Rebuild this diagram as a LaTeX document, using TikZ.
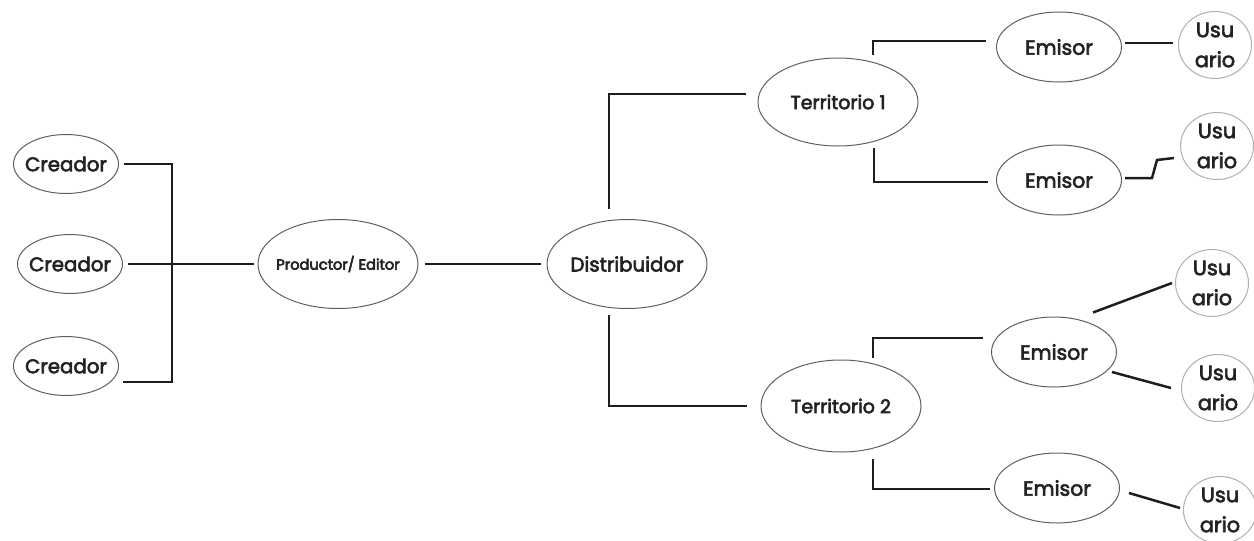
\documentclass[tikz,border=0pt]{standalone}
\usepackage{fontspec}
\setmainfont{Poppins}
\usepackage{tikz}
\usetikzlibrary{shapes}
\definecolor{node_gray}{RGB}{95,95,95}
\definecolor{user_gray}{RGB}{175,175,175}
\definecolor{edge_black}{RGB}{30,30,30}
\definecolor{text_black}{RGB}{35,35,35}
% slightly heavier strokes for the labels
\newcommand{\heavy}[1]{\special{pdf:literal direct 2 Tr 0.3 w}#1\special{pdf:literal direct 0 Tr}}

\begin{document}
\begin{tikzpicture}[x=0.5pt,y=-0.5pt,line width=1.2pt]
    \tikzstyle{link}=[draw=edge_black,line width=1.25pt]
    \tikzstyle{agent}=[draw=node_gray, ellipse, line width=0.5pt, inner xsep=-10pt, inner ysep=0pt, fill=none, text=text_black]
    \tikzstyle{creator}=[style=agent, minimum width=52.5pt, minimum height=29.5pt, font=\fontsize{9.9}{12}\selectfont]
    \tikzstyle{big}=[style=agent, minimum width=80pt, minimum height=44.5pt]
    \tikzstyle{emitter}=[style=agent, minimum width=62.5pt, minimum height=35pt, font=\fontsize{10.2}{12}\selectfont]
    \tikzstyle{user}=[style=agent, draw=user_gray, inner ysep=-3pt, minimum width=36.5pt, minimum height=33.5pt, align=center, font=\fontsize{10.4}{15}\selectfont]

    \useasboundingbox (0,0) rectangle (1254,541);

    \node[creator] (C1) at (66,164)  {\heavy{Creador}};
    \node[creator] (C2) at (70,264)  {\heavy{Creador}};
    \node[creator] (C3) at (66,366)  {\heavy{Creador}};
    \node[big, font=\fontsize{7.3}{8}\selectfont] (PE) at (338,264) {\heavy{Productor/ Editor}};
    \node[big, font=\fontsize{9.9}{12}\selectfont] (D) at (627,264) {\heavy{Distribuidor}};
    \node[big, minimum height=44pt, font=\fontsize{9.5}{10}\selectfont] (T1) at (838,102) {\heavy{Territorio 1}};
    \node[big, minimum height=46pt, font=\fontsize{9.5}{10}\selectfont] (T2) at (841,406) {\heavy{Territorio 2}};
    \node[emitter] (E1) at (1059,47)  {\heavy{Emisor}};
    \node[emitter] (E2) at (1059,180) {\heavy{Emisor}};
    \node[emitter] (E3) at (1054,352) {\heavy{Emisor}};
    \node[emitter] (E4) at (1057,488) {\heavy{Emisor}};
    \node[user] (U1) at (1215,45)  {\heavy{Usu}\\\heavy{ario}};
    \node[user] (U2) at (1217,146) {\heavy{Usu}\\\heavy{ario}};
    \node[user] (U3) at (1212,283) {\heavy{Usu}\\\heavy{ario}};
    \node[user] (U4) at (1218,388) {\heavy{Usu}\\\heavy{ario}};
    \node[user] (U5) at (1220,510) {\heavy{Usu}\\\heavy{ario}};

    \coordinate (J) at (172,264);

    % creadores -> productor
    \draw[link] ([xshift=2.5pt]C1.east) -| (J) |- ([xshift=2pt,yshift=-8pt]C3.east);
    \draw[link] ([xshift=2.5pt]C2.east) -- (J) -- ([xshift=-2pt]PE.west);
    \draw[link] ([xshift=3pt]PE.east) -- ([xshift=-3pt]D.west);

    % distribuidor -> territorios
    \draw[link] ([xshift=-9pt,yshift=5pt]D.north) |- ([xshift=-6pt,yshift=4pt]T1.west);
    \draw[link] ([xshift=-9pt,yshift=-3pt]D.south) |- ([xshift=-7pt]T2.west);

    % territorios -> emisores
    \draw[link] ([xshift=17.5pt,yshift=1.5pt]T1.north) |- ([xshift=-5pt,yshift=3pt]E1.west);
    \draw[link] ([xshift=18pt,yshift=-0.5pt]T1.south) |- ([xshift=-4pt,yshift=-1pt]E2.west);
    \draw[link] ([xshift=16pt,yshift=1pt]T2.north) |- ([xshift=-4pt,yshift=7pt]E3.west);
    \draw[link] ([xshift=16pt,yshift=-3pt]T2.south) |- ([xshift=-2pt,yshift=-0.5pt]E4.west);

    % emisores -> usuarios
    \draw[link] ([xshift=1.5pt,yshift=2pt]E1.east) -- ([xshift=-2.5pt,yshift=1pt]U1.west);
    \draw[link] ([xshift=1.5pt,yshift=1pt]E2.east) -- ++(13.5pt,0) -- ++(2.5pt,9pt)
        -- ([xshift=-3pt,yshift=-6pt]U2.west);
    \draw[link] ([xshift=19.5pt,yshift=2pt]E3.north) -- ([xshift=-1.5pt]U3.west);
    \draw[link] ([xshift=-2.5pt,yshift=-10pt]E3.east) -- ([xshift=-5pt]U4.west);
    \draw[link] ([xshift=4.5pt,yshift=-2.5pt]E4.east) -- ([xshift=-1.5pt,yshift=1pt]U5.west);
\end{tikzpicture}
\end{document}
